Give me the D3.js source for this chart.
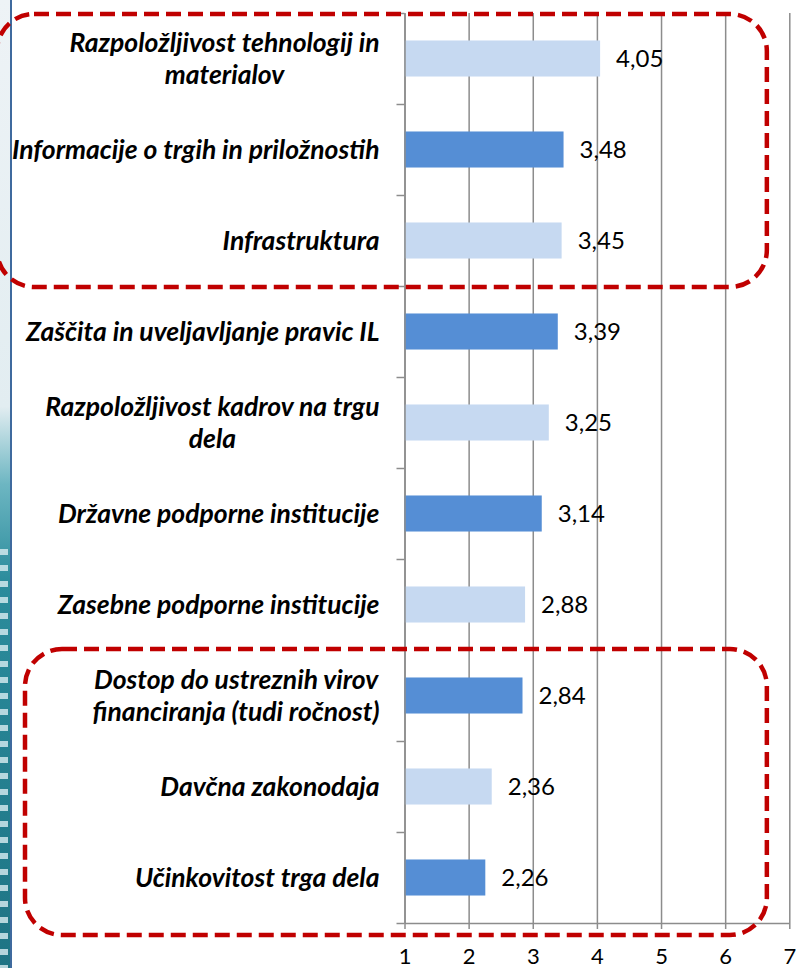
<!DOCTYPE html>
<html>
<head>
<meta charset="utf-8">
<script src="https://cdn.jsdelivr.net/npm/d3@7"></script>
<style>
body{margin:0;background:#fff;}
svg{display:block;font-family:Lato,"Open Sans",sans-serif;}
.catText{font-weight:bold;font-style:italic;font-size:26.5px;fill:#000;}
.valText{font-size:24px;fill:#000;}
.xAxis text{font-size:22px;fill:#000;font-family:Lato,sans-serif;}
</style>
</head>
<body>
<div id="chart"></div>
<script>
// categories top to bottom, line breaks as in the original
var categories=[
  ["Razpoložljivost tehnologij in","materialov"],
  ["Informacije o trgih in priložnostih"],
  ["Infrastruktura"],
  ["Zaščita in uveljavljanje pravic IL"],
  ["Razpoložljivost kadrov na trgu","dela"],
  ["Državne podporne institucije"],
  ["Zasebne podporne institucije"],
  ["Dostop do ustreznih virov","financiranja (tudi ročnost)"],
  ["Davčna zakonodaja"],
  ["Učinkovitost trga dela"]
];
var values=[4.05,3.48,3.45,3.39,3.25,3.14,2.88,2.84,2.36,2.26];
var shade=["light","dark","light","dark","light","dark","light","dark","light","dark"];
var xTicks=[1,2,3,4,5,6,7];
// rows framed by the red dashed boxes
var groups=[[0,2],[7,9]];

var wide=796;
var high=968;
var plotLeft=404.5;
var plotRight=789.3;
var plotTop=13;
var plotBottom=923;
var colors={light:"#C6D9F1",dark:"#558ED5"};

var svg=d3.select("#chart")
  .append("svg")
  .attr("width",wide)
  .attr("height",high);

// left edge: bit of the slide background
var defs=svg.append("defs");
var grad=defs.append("linearGradient")
  .attr("id","bgGrad")
  .attr("gradientUnits","userSpaceOnUse")
  .attr("x1",0).attr("y1",0).attr("x2",0).attr("y2",high);
grad.append("stop").attr("offset","0").attr("stop-color","#EEF3F6");
grad.append("stop").attr("offset","0.42").attr("stop-color","#E2EDF1");
grad.append("stop").attr("offset","0.5").attr("stop-color","#6DB6C2");
grad.append("stop").attr("offset","0.6").attr("stop-color","#2B8C9C");
grad.append("stop").attr("offset","1").attr("stop-color","#1E7484");
var pat=defs.append("pattern")
  .attr("id","stripes")
  .attr("width",10).attr("height",16)
  .attr("patternUnits","userSpaceOnUse");
pat.append("rect").attr("y",5).attr("width",10).attr("height",6).attr("fill","#D9EEF1").attr("opacity",0.8);
svg.append("rect").attr("x",0).attr("y",0).attr("width",11).attr("height",high).attr("fill","url(#bgGrad)");
svg.append("rect").attr("x",0).attr("y",545).attr("width",8).attr("height",high-545).attr("fill","url(#stripes)");
svg.append("line")
  .attr("x1",11).attr("x2",11).attr("y1",0).attr("y2",high)
  .attr("stroke","#3F6A9E").attr("stroke-width",2);

var xscale=d3.scaleLinear().domain([1,7]).range([plotLeft,plotRight]);
var yscale=d3.scaleBand()
  .domain(d3.range(categories.length))
  .range([plotTop,plotBottom])
  .paddingInner(0.604)
  .paddingOuter(0.302);
var edges=d3.scaleLinear().domain([0,categories.length]).range([plotTop,plotBottom]);

var locale=d3.formatLocale({decimal:",",thousands:".",grouping:[3],currency:["","€"]});
var fmt=locale.format(".2f");

// gridlines
svg.append("g")
  .attr("class","grid")
  .attr("transform","translate(0,"+plotBottom+")")
  .call(d3.axisBottom(xscale).tickValues(xTicks).tickSize(-(plotBottom-plotTop)).tickFormat(""))
  .call(function(g){
    g.select(".domain").remove();
    g.selectAll("line").attr("stroke","#8C8C8C").attr("stroke-width",1.5);
  });

// bars
svg.selectAll(".bar")
  .data(values)
  .enter()
  .append("rect")
  .attr("class","bar")
  .attr("x",xscale(1))
  .attr("y",function(d,i){return yscale(i);})
  .attr("width",function(d){return xscale(d)-xscale(1);})
  .attr("height",yscale.bandwidth())
  .attr("fill",function(d,i){return colors[shade[i]];});

// value labels
svg.selectAll(".valText")
  .data(values)
  .enter()
  .append("text")
  .attr("class","valText")
  .attr("x",function(d){return xscale(d)+16;})
  .attr("y",function(d,i){return yscale(i)+yscale.bandwidth()/2;})
  .attr("dy","0.36em")
  .text(function(d){return fmt(d);});

// y axis with ticks on row edges
svg.append("g")
  .attr("class","yAxis")
  .attr("transform","translate("+plotLeft+",0)")
  .call(d3.axisLeft(edges).ticks(categories.length).tickSize(8).tickSizeOuter(0).tickFormat(""))
  .call(function(g){
    g.select(".domain").attr("stroke","#8C8C8C").attr("stroke-width",1.5);
    g.selectAll("line").attr("stroke","#8C8C8C").attr("stroke-width",1.5);
  });

// x axis
svg.append("g")
  .attr("class","xAxis")
  .attr("transform","translate(0,"+plotBottom+")")
  .call(d3.axisBottom(xscale).tickValues(xTicks).tickSize(6).tickSizeOuter(0).tickPadding(19).tickFormat(d3.format("d")))
  .call(function(g){
    g.select(".domain").attr("stroke","#8C8C8C").attr("stroke-width",1.5);
    g.selectAll("line").attr("stroke","#8C8C8C").attr("stroke-width",1.5);
    g.selectAll("text").attr("font-size",null);
  });

// category labels, multi-line ones centred inside a right-aligned block
var lineGap=32;
var labelRight=plotLeft-25;
var cats=svg.selectAll(".cat")
  .data(categories)
  .enter()
  .append("g")
  .attr("class","cat");
cats.each(function(lines,i){
  var g=d3.select(this);
  var mid=yscale(i)+yscale.bandwidth()/2;
  var texts=g.selectAll("text")
    .data(lines)
    .enter()
    .append("text")
    .attr("class","catText")
    .attr("y",function(d,k){return mid+(k-(lines.length-1)/2)*lineGap;})
    .attr("dy","0.36em")
    .text(function(d){return d;});
  var widest=d3.max(texts.nodes(),function(n){return n.getComputedTextLength();});
  texts
    .attr("text-anchor","middle")
    .attr("x",labelRight-widest/2);
});

// red dashed boxes
var boxLeft=[-3,25];
svg.selectAll(".box")
  .data(groups)
  .enter()
  .append("rect")
  .attr("class","box")
  .attr("x",function(d,i){return boxLeft[i];})
  .attr("y",function(d){return edges(d[0])+(d[0]===0?1:-1);})
  .attr("width",function(d,i){return xscale(6.65)-boxLeft[i];})
  .attr("height",function(d){return edges(d[1]+1)-edges(d[0])+(d[1]===categories.length-1?13:0);})
  .attr("rx",37)
  .attr("ry",37)
  .attr("fill","none")
  .attr("stroke","#C00000")
  .attr("stroke-width",4.5)
  .attr("stroke-dasharray","15,7");
</script>
</body>
</html>
